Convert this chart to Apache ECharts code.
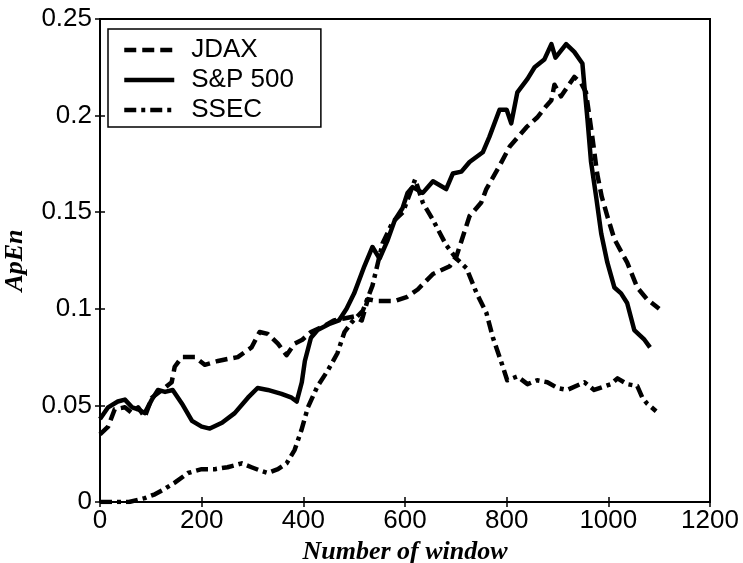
<!DOCTYPE html>
<html>
<head>
<meta charset="utf-8">
<script src="https://cdn.jsdelivr.net/npm/echarts@6/dist/echarts.min.js"></script>
<style>html,body{margin:0;padding:0;background:#fff;}#c{width:743px;height:563px;}</style>
</head>
<body>
<div id="c"></div>
<script>
const seriesNames = ['JDAX', 'S&P 500', 'SSEC'];
const xTicks = [0, 200, 400, 600, 800, 1000, 1200];
const yTicks = [0, 0.05, 0.1, 0.15, 0.2, 0.25];

const jdaxWin = [0,16,29,49,63,75,88,102,122,141,147,161,187,206,232,251,271,298,314,330,350,367,383,398,415,440,460,480,500,515,527,545,580,603,625,655,688,701,727,750,760,786,806,839,860,878,888,894,907,933,946,956,962,969,978,987,998,1012,1037,1057,1076,1100];
const jdaxVal = [0.035,0.039,0.048,0.049,0.046,0.049,0.044,0.054,0.058,0.062,0.070,0.075,0.075,0.071,0.073,0.074,0.075,0.080,0.088,0.087,0.082,0.076,0.082,0.084,0.088,0.091,0.094,0.095,0.096,0.094,0.105,0.104,0.104,0.106,0.110,0.118,0.122,0.127,0.148,0.155,0.162,0.174,0.184,0.194,0.199,0.205,0.208,0.216,0.210,0.220,0.217,0.212,0.201,0.188,0.170,0.158,0.148,0.136,0.124,0.111,0.105,0.100];

const spWin = [0,16,35,49,63,75,88,102,114,128,143,161,181,200,216,240,265,291,310,330,357,377,387,397,403,415,428,450,470,485,500,520,536,550,565,580,595,605,615,635,655,681,694,711,727,753,766,786,800,809,821,841,855,874,888,896,917,933,949,953,959,966,976,986,998,1012,1025,1037,1051,1071,1082];
const spVal = [0.043,0.049,0.052,0.053,0.049,0.048,0.046,0.053,0.058,0.057,0.058,0.051,0.042,0.039,0.038,0.041,0.046,0.054,0.059,0.058,0.056,0.054,0.052,0.062,0.073,0.085,0.089,0.092,0.094,0.100,0.108,0.122,0.132,0.126,0.135,0.146,0.152,0.160,0.163,0.160,0.166,0.162,0.170,0.171,0.176,0.181,0.189,0.203,0.203,0.196,0.212,0.219,0.225,0.229,0.237,0.230,0.237,0.233,0.227,0.215,0.198,0.176,0.158,0.139,0.124,0.111,0.108,0.103,0.089,0.084,0.080];

const ssecWin = [0,57,88,108,122,147,173,200,226,251,279,298,318,330,350,367,383,396,409,428,448,467,481,495,517,536,556,576,596,610,620,635,655,681,701,721,741,760,773,790,801,821,841,860,880,900,919,953,972,1005,1018,1037,1057,1067,1076,1094];
const ssecVal = [0.000,0.000,0.002,0.004,0.006,0.010,0.015,0.017,0.017,0.018,0.020,0.018,0.016,0.015,0.017,0.020,0.027,0.037,0.049,0.060,0.068,0.077,0.088,0.093,0.099,0.112,0.134,0.145,0.150,0.160,0.167,0.155,0.146,0.133,0.126,0.121,0.108,0.098,0.085,0.072,0.063,0.065,0.061,0.063,0.062,0.059,0.058,0.062,0.058,0.061,0.064,0.061,0.060,0.054,0.051,0.047];

function zip(a, b) { return a.map((v, i) => [v, b[i]]); }

const chart = echarts.init(document.getElementById('c'));
const tickFont = { fontFamily: 'Liberation Sans, Arial, sans-serif', fontSize: 26, color: '#000' };
const titleFont = { fontFamily: 'Liberation Serif, Times New Roman, serif', fontSize: 26, fontStyle: 'italic', fontWeight: 'bold', color: '#000' };

function lineSeries(name, data, type) {
  return {
    name: name, type: 'line', data: data, symbol: 'none', showSymbol: false,
    xAxisIndex: 0, yAxisIndex: 0, animation: false,
    lineStyle: { color: '#000', width: 4.5, type: type, cap: 'butt', join: 'round' },
    itemStyle: { color: '#000' }
  };
}

chart.setOption({
  animation: false,
  backgroundColor: '#fff',
  grid: { left: 100, right: 33, top: 19, bottom: 61, outerBoundsMode: 'none', containLabel: false,
          show: true, borderColor: '#000', borderWidth: 2, backgroundColor: 'transparent' },
  legend: {
    data: seriesNames,
    orient: 'vertical',
    left: 108, top: 29,
    padding: [8, 27, 4, 14],
    itemGap: 4,
    itemWidth: 50, itemHeight: 26,
    backgroundColor: '#fff',
    borderColor: '#000', borderWidth: 1.5,
    itemStyle: { opacity: 0 },
    lineStyle: { width: 4.5 },
    textStyle: { fontFamily: 'Liberation Sans, Arial, sans-serif', fontSize: 26, color: '#000', padding: [0, 0, 0, 12] }
  },
  xAxis: [
    { type: 'value', min: 0, max: 1200, interval: 200, position: 'bottom',
      name: 'Number of window', nameLocation: 'middle', nameGap: 37, nameTextStyle: titleFont,
      axisLine: { show: true, lineStyle: { color: '#000', width: 2 } },
      axisTick: { show: true, inside: true, length: 5, lineStyle: { color: '#000', width: 1.5 } },
      axisLabel: Object.assign({ margin: 6, formatter: v => String(v) }, tickFont),
      splitLine: { show: false } },
    { type: 'value', min: 0, max: 1200, interval: 200, position: 'top',
      axisLine: { show: true, lineStyle: { color: '#000', width: 2 } },
      axisTick: { show: true, inside: true, length: 5, lineStyle: { color: '#000', width: 1.5 } },
      axisLabel: { show: false }, splitLine: { show: false } }
  ],
  yAxis: [
    { type: 'value', min: 0, max: 0.25, interval: 0.05, position: 'left',
      name: 'ApEn', nameLocation: 'middle', nameGap: 72, nameRotate: 90, nameTextStyle: titleFont,
      axisLine: { show: true, lineStyle: { color: '#000', width: 2 } },
      axisTick: { show: true, inside: true, length: 5, lineStyle: { color: '#000', width: 1.5 } },
      axisLabel: Object.assign({ margin: 8, formatter: v => String(+v.toFixed(2)) }, tickFont),
      splitLine: { show: false } },
    { type: 'value', min: 0, max: 0.25, interval: 0.05, position: 'right',
      axisLine: { show: true, lineStyle: { color: '#000', width: 2 } },
      axisTick: { show: true, inside: true, length: 5, lineStyle: { color: '#000', width: 1.5 } },
      axisLabel: { show: false }, splitLine: { show: false } }
  ],
  series: [
    lineSeries('JDAX', zip(jdaxWin, jdaxVal), [12, 6]),
    lineSeries('S&P 500', zip(spWin, spVal), 'solid'),
    lineSeries('SSEC', zip(ssecWin, ssecVal), [12, 5, 4, 5])
  ]
});
</script>
</body>
</html>
